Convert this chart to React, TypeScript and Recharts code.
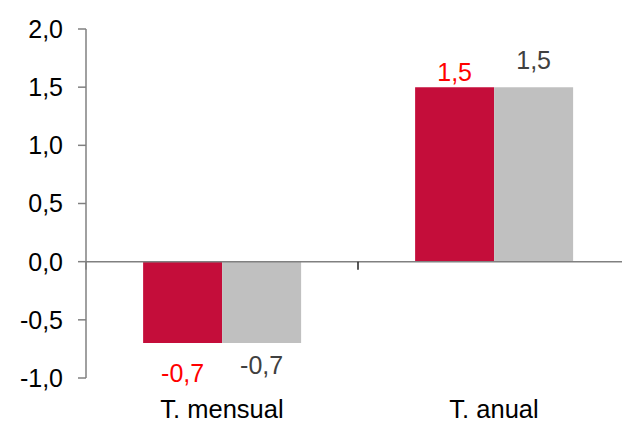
import React from "react";
import { BarChart, Bar, XAxis, YAxis, ReferenceLine, LabelList } from "recharts";

const categories = ["T. mensual", "T. anual"];
const serieA = [-0.7, 1.5];
const serieB = [-0.7, 1.5];
const yTicks = [-1, -0.5, 0, 0.5, 1, 1.5, 2];

const data = categories.map((c, i) => ({ name: c, a: serieA[i], b: serieB[i] }));

const fmt = (v: number) => v.toFixed(1).replace(".", ",");
const FONT = "'Liberation Sans', Arial, sans-serif";

const makeLabel = (color: string, posOff: number, negOff: number) => (props: any) => {
  const { x, y, width, height, value } = props;
  const top = Math.min(y, y + height);
  const bottom = Math.max(y, y + height);
  const cy = value >= 0 ? top - posOff : bottom + negOff;
  return (
    <text
      x={x + width / 2}
      y={cy}
      fill={color}
      fontSize={25}
      fontFamily={FONT}
      textAnchor="middle"
      dominantBaseline="central"
    >
      {fmt(value)}
    </text>
  );
};

const ZeroLine = (props: any) => {
  const { x1, y1, x2, y2 } = props;
  const mid = (x1 + x2) / 2;
  return (
    <g>
      <line x1={x1} y1={y1} x2={x2} y2={y2} stroke="#808080" strokeWidth={1.5} />
      <line x1={x1} y1={y1} x2={x1} y2={y1 + 8} stroke="#404040" strokeWidth={1} />
      <line x1={mid} y1={y1} x2={mid} y2={y1 + 8} stroke="#202020" strokeWidth={1.5} />
    </g>
  );
};

export default function App() {
  return (
    <BarChart
      width={622}
      height={414}
      data={data}
      margin={{ top: 21, right: 0, left: 0, bottom: 0 }}
      barCategoryGap="21%"
      barGap={0}
    >
      <XAxis
        dataKey="name"
        axisLine={false}
        tickLine={false}
        height={44}
        tickMargin={16}
        tick={{ fill: "#000", fontSize: 25.5, fontFamily: FONT }}
      />
      <YAxis
        domain={[-1, 2]}
        ticks={yTicks}
        interval={0}
        width={78}
        tickSize={8}
        tickMargin={15}
        tickFormatter={fmt}
        axisLine={{ stroke: "#808080", strokeWidth: 1.5 }}
        tickLine={{ stroke: "#808080", strokeWidth: 1.5 }}
        tick={{ fill: "#000", fontSize: 25, fontFamily: FONT }}
      />
      <Bar dataKey="a" fill="#C40D3A" isAnimationActive={false}>
        <LabelList dataKey="a" content={makeLabel("#FF0000", 15, 30)} />
      </Bar>
      <Bar dataKey="b" fill="#C0C0C0" isAnimationActive={false}>
        <LabelList dataKey="b" content={makeLabel("#404040", 27, 22)} />
      </Bar>
      <ReferenceLine y={0} shape={ZeroLine} />
    </BarChart>
  );
}
